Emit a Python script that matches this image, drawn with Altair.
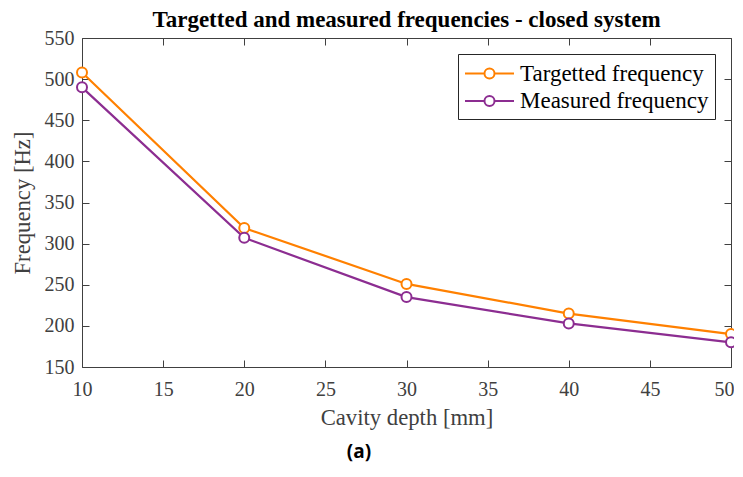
import altair as alt
import pandas as pd

depth = [10, 20, 30, 40, 50]
targetted = [508, 319, 251, 215, 190]
measured = [490, 307, 235, 203, 180]
series_names = ["Targetted frequency", "Measured frequency"]
colors = ["#FF8000", "#8C2D91"]
x_ticks = [10, 15, 20, 25, 30, 35, 40, 45, 50]
y_ticks = [150, 200, 250, 300, 350, 400, 450, 500, 550]

rows = []
for d, t, m in zip(depth, targetted, measured):
    rows.append({"depth": d, "freq": t, "series": series_names[0]})
    rows.append({"depth": d, "freq": m, "series": series_names[1]})
df = pd.DataFrame(rows)

SERIF = "Liberation Serif"
AX = "#404040"
x_scale = alt.Scale(domain=[10, 50], nice=False, zero=False)
y_scale = alt.Scale(domain=[150, 550], nice=False, zero=False)

axis_common = dict(
    offset=-7, tickSize=7, domain=False, grid=False, tickColor=AX, labelFlush=False,
    labelFont=SERIF, labelFontSize=20, labelColor=AX,
    titleFont=SERIF, titleFontSize=22.7, titleColor=AX, titleFontWeight="normal",
)

# legend symbol: line with hollow circle (path coords scaled by sqrt(size)/2)
r = 0.41
sym_path = (f"M-2,0 L-{r},0 M{r},0 L2,0 M{r},0 A{r},{r} 0 1,1 -{r},0 A{r},{r} 0 1,1 {r},0")

lines = alt.Chart(df).mark_line(
    strokeWidth=2.2,
    point=alt.OverlayMarkDef(filled=False, fill="white", size=100, strokeWidth=2),
).encode(
    x=alt.X("depth:Q", scale=x_scale,
            axis=alt.Axis(values=x_ticks, title="Cavity depth [mm]", labelPadding=12,
                          titlePadding=7,
                          labelOffset={"condition": {"test": "datum.value == 50", "value": -7},
                                       "value": 0},
                          **axis_common)),
    y=alt.Y("freq:Q", scale=y_scale,
            axis=alt.Axis(values=y_ticks, title="Frequency [Hz]", labelPadding=8,
                          titlePadding=10, **axis_common)),
    color=alt.Color("series:N", sort=series_names,
                    scale=alt.Scale(domain=series_names, range=colors),
                    legend=alt.Legend(
                        title=None, orient="none", legendX=376, legendY=16,
                        fillColor="white", strokeColor="#262626", padding=6,
                        labelFont=SERIF, labelFontSize=23, labelColor="#000000",
                        labelLimit=0, labelOffset=17, symbolOffset=12,
                        symbolType=sym_path, symbolSize=600,
                        symbolStrokeWidth=2, symbolFillColor="white", rowPadding=1.5,
                    )),
)

frame_axis = dict(offset=-7, tickSize=7, domain=False, grid=False, labels=False,
                  tickColor=AX, title=None)
frame = alt.Chart(df).mark_point(opacity=0).encode(
    x=alt.X("depth:Q", scale=x_scale, axis=alt.Axis(orient="top", values=x_ticks, **frame_axis)),
    y=alt.Y("freq:Q", scale=y_scale, axis=alt.Axis(orient="right", values=y_ticks, **frame_axis)),
)

label_a = alt.Chart(pd.DataFrame({"t": ["(a)"]})).mark_text(
    font="Open Sans", fontSize=19, fontWeight="bold", color="#000000",
    align="center", baseline="middle",
).encode(text="t:N", x=alt.value(277), y=alt.value(414))

chart = alt.layer(lines, frame, label_a).resolve_axis(
    x="independent", y="independent"
).properties(
    width=649, height=329,
    autosize=alt.AutoSizeParams(type="none"),
    padding={"left": 74, "top": 30, "right": 3, "bottom": 101},
    title=alt.TitleParams("Targetted and measured frequencies - closed system",
                          font=SERIF, fontSize=23, fontWeight="bold", color="#000000",
                          anchor="middle", offset=4, dy=8),
).configure_view(stroke=AX, strokeWidth=1)

chart.save("out.html", embed_options={"renderer": "svg", "actions": False})
